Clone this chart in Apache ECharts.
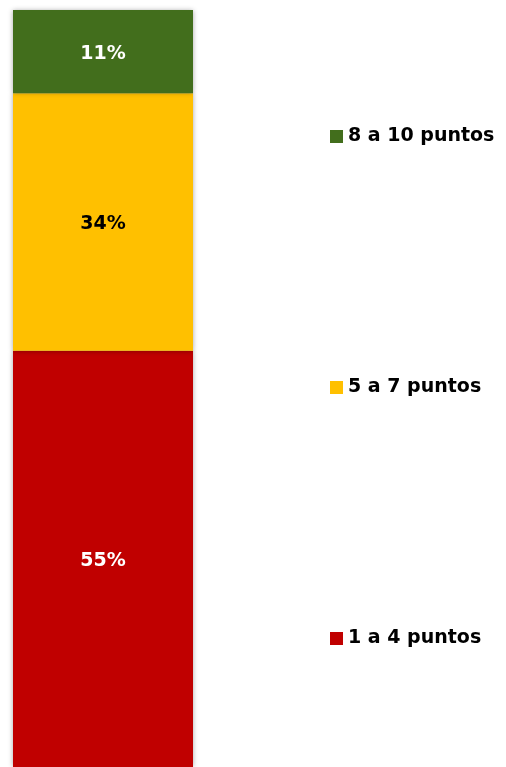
<!DOCTYPE html>
<html>
<head>
<meta charset="utf-8">
<script src="https://cdn.jsdelivr.net/npm/echarts@6/dist/echarts.min.js"></script>
<style>
html,body{margin:0;padding:0;background:#fff;}
#chart{width:506px;height:767px;}
</style>
</head>
<body>
<div id="chart"></div>
<script>
var categories = ['Total'];
var seriesNames = ['1 a 4 puntos', '5 a 7 puntos', '8 a 10 puntos'];
var values1a4 = [55];
var values5a7 = [34];
var values8a10 = [11];
var colors = ['#C00000', '#FFC000', '#426E1C'];
var labelColors = ['#ffffff', '#000000', '#ffffff'];
var FONT = 'DejaVu Sans';

var chart = echarts.init(document.getElementById('chart'));
var dataSets = [values1a4, values5a7, values8a10];
var series = seriesNames.map(function (name, i) {
  return {
    name: name,
    type: 'bar',
    stack: 'total',
    barWidth: 180,
    data: dataSets[i],
    itemStyle: {
      color: colors[i],
      shadowBlur: 5,
      shadowColor: 'rgba(0,0,0,0.35)'
    },
    label: {
      show: true,
      position: 'inside',
      offset: [0, 2],
      formatter: '{c}%',
      color: labelColors[i],
      fontSize: 19,
      fontWeight: 'bold',
      fontFamily: FONT
    }
  };
});
var legendTops = [629, 378, 127];
var legends = seriesNames.map(function (name, i) {
  return {
    data: [name],
    left: 330,
    top: legendTops[i],
    padding: 0,
    icon: 'rect',
    itemWidth: 13,
    itemHeight: 13,
    selectedMode: false,
    textStyle: { fontSize: 19, fontWeight: 'bold', color: '#000', fontFamily: FONT }
  };
});
chart.setOption({
  animation: false,
  color: colors,
  legend: legends,
  grid: { left: 13, width: 180, top: 10, height: 760 },
  xAxis: { type: 'category', data: categories, show: false },
  yAxis: { type: 'value', min: 0, max: 100, show: false },
  series: series
});
</script>
</body>
</html>
